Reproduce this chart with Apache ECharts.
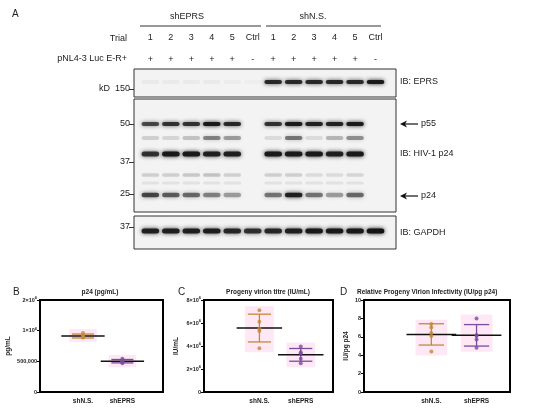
<!DOCTYPE html>
<html>
<head>
<meta charset="utf-8">
<script src="https://cdn.jsdelivr.net/npm/echarts@6/dist/echarts.min.js"></script>
<style>
  html, body { margin: 0; padding: 0; background: #fff; }
  #chart { width: 550px; height: 408px; }
</style>
</head>
<body>
<div id="chart"></div>
<script>
// lanes of the blot
var trials = ['1', '2', '3', '4', '5', 'Ctrl', '1', '2', '3', '4', '5', 'Ctrl'];
var plasmid = ['+', '+', '+', '+', '+', '-', '+', '+', '+', '+', '+', '-'];

// band intensities per lane (0..1)
var eprs   = [0.04, 0.04, 0.04, 0.04, 0.03, 0.02, 0.85, 0.85, 0.85, 0.85, 0.85, 0.95];
var p55    = [0.7, 0.8, 0.8, 0.95, 0.85, 0, 0.8, 0.95, 0.9, 0.9, 0.95, 0];
var band45 = [0.15, 0.12, 0.2, 0.45, 0.35, 0, 0.1, 0.5, 0.1, 0.25, 0.4, 0];
var band40 = [0.8, 0.95, 0.95, 0.9, 0.9, 0, 0.95, 0.95, 0.95, 0.9, 0.95, 0];
var band30 = [0.15, 0.15, 0.18, 0.2, 0.15, 0, 0.15, 0.15, 0.1, 0.1, 0.12, 0];
var band28 = [0.07, 0.07, 0.07, 0.07, 0.07, 0, 0.07, 0.07, 0.07, 0.07, 0.07, 0];
var p24    = [0.7, 0.6, 0.55, 0.45, 0.35, 0, 0.5, 0.9, 0.5, 0.35, 0.55, 0];
var gapdh  = [0.9, 0.9, 0.9, 0.9, 0.85, 0.8, 0.85, 0.9, 0.95, 0.95, 0.95, 1];

// marker ladders (value = row in panel)
var markers1 = [[20, 'kD  150']];
var markers2 = [[25, '50'], [63, '37'], [95, '25']];
var markers3 = [[11, '37']];

// quantification
var groups = ['shN.S.', 'shEPRS'];
var p24NS = [950000, 900000, 870000, 860000, 855000];
var p24EP = [530000, 510000, 500000, 490000, 480000];
var titreNS = [7.1e6, 6.1e6, 5.5e6, 5.3e6, 3.8e6];
var titreEP = [3.95e6, 3.45e6, 3.35e6, 2.9e6, 2.5e6];
var infNS = [7.4, 7.0, 6.4, 6.1, 4.4];
var infEP = [8.0, 6.2, 6.1, 5.7, 4.8];

var colors = ['#c4883a', '#7a4c9e'];
var font = 'Liberation Sans';

function mean(a) { return a.reduce(function (s, v) { return s + v; }, 0) / a.length; }
function sd(a) {
  var m = mean(a);
  return Math.sqrt(a.reduce(function (s, v) { return s + (v - m) * (v - m); }, 0) / (a.length - 1));
}

var chart = echarts.init(document.getElementById('chart'));

//blot bands
function bandData(rows) {
  var out = [];
  rows.forEach(function (r) {
    r.vals.forEach(function (v, i) { if (v > 0) out.push([i, r.y, v, r.h]); });
  });
  return out;
}
function bandItem(params, api) {
  var c = api.coord([api.value(0), api.value(1)]);
  var w = api.size([0.86, 0])[0];
  var h = api.value(3);
  var a = api.value(2);
  return {
    type: 'rect',
    shape: { x: c[0] - w / 2, y: c[1] - h / 2, width: w, height: h, r: h / 2 },
    style: { fill: 'rgba(20,20,20,' + a + ')', shadowBlur: 4, shadowColor: 'rgba(20,20,20,' + a + ')' }
  };
}

function blotY(idx, max, marks) {
  return {
    gridIndex: idx, type: 'value', min: 0, max: max, inverse: true,
    splitLine: { show: false }, axisLine: { show: false, onZero: false },
    axisTick: { show: true, length: 5, customValues: marks.map(function (m) { return m[0]; }), lineStyle: { color: '#333' } },
    axisLabel: {
      customValues: marks.map(function (m) { return m[0]; }),
      formatter: function (v) { var f = marks.filter(function (m) { return m[0] === v; }); return f.length ? f[0][1] : ''; },
      fontFamily: font, fontSize: 9, color: '#222', margin: 4
    }
  };
}

// quant plots
function groupData(arrA, arrB) {
  return [[1, mean(arrA), sd(arrA), Math.min.apply(null, arrA), Math.max.apply(null, arrA), 0],
          [2, mean(arrB), sd(arrB), Math.min.apply(null, arrB), Math.max.apply(null, arrB), 1]];
}
function summaryItem(params, api) {
  var x = api.value(0), m = api.value(1), s = api.value(2), lo = api.value(3), hi = api.value(4);
  var col = colors[api.value(5)];
  var pA = api.coord([x - 0.35, hi]), pB = api.coord([x + 0.35, lo]);
  var pad = 4;
  var top = api.coord([x, m + s]), bot = api.coord([x, m - s]);
  var cw = api.size([0.28, 0])[0];
  var ml = api.coord([x - 0.55, m]), mr = api.coord([x + 0.55, m]);
  return {
    type: 'group',
    children: [
      { type: 'rect', shape: { x: pA[0], y: Math.min(pA[1], top[1]) - pad, width: pB[0] - pA[0], height: Math.max(pB[1], bot[1]) - Math.min(pA[1], top[1]) + 2 * pad },
        style: { fill: 'rgba(255,190,225,0.35)' } },
      { type: 'line', shape: { x1: top[0], y1: top[1], x2: bot[0], y2: bot[1] }, style: { stroke: col, lineWidth: 1.3 } },
      { type: 'line', shape: { x1: top[0] - cw, y1: top[1], x2: top[0] + cw, y2: top[1] }, style: { stroke: col, lineWidth: 1.3 } },
      { type: 'line', shape: { x1: bot[0] - cw, y1: bot[1], x2: bot[0] + cw, y2: bot[1] }, style: { stroke: col, lineWidth: 1.3 } },
      { type: 'line', shape: { x1: ml[0], y1: ml[1], x2: mr[0], y2: mr[1] }, style: { stroke: '#111', lineWidth: 1.5 }, z2: 10 }
    ]
  };
}
function pts(arr, x) { return arr.map(function (v) { return [x, v]; }); }

function quantX(idx, min, max) {
  return {
    gridIndex: idx, type: 'value', min: min, max: max,
    splitLine: { show: false }, axisLine: { show: false, onZero: false }, axisTick: { show: false },
    axisLabel: { customValues: [1, 2], formatter: function (v) { return groups[v - 1]; },
      fontFamily: font, fontSize: 6.5, fontWeight: 'bold', color: '#222', margin: 6 }
  };
}
function quantY(idx, extra) {
  var base = {
    gridIndex: idx, splitLine: { show: false },
    axisLine: { show: false, onZero: false }, axisTick: { show: true, length: 3, lineStyle: { color: '#000' } },
    nameLocation: 'middle', nameRotate: 90,
    nameTextStyle: { fontFamily: font, fontSize: 6.5, fontWeight: 'bold', color: '#222' },
    axisLabel: { fontFamily: font, fontSize: 5.5, fontWeight: 'bold', color: '#222', margin: 3,
      rich: { s: { fontSize: 4, fontWeight: 'bold', verticalAlign: 'top', padding: [0, 0, 4, 0] } } }
  };
  for (var k in extra) {
    if (k === 'axisLabel') { for (var j in extra[k]) base.axisLabel[j] = extra[k][j]; }
    else base[k] = extra[k];
  }
  return base;
}
function sci(v) {
  if (v === 0) return '0';
  var e = Math.floor(Math.log10(v) + 1e-9);
  return (v / Math.pow(10, e)) + '×10{s|' + e + '}';
}

var p24Ticks = [250000, 500000, 1000000, 2000000];
var p24Labels = ['0', '500,000', '1×10{s|6}', '2×10{s|6}'];

function scatterSeries(idx, a, b) {
  return [
    { type: 'custom', xAxisIndex: idx, yAxisIndex: idx, renderItem: summaryItem, data: groupData(a, b), z: 2 },
    { type: 'scatter', xAxisIndex: idx, yAxisIndex: idx, data: pts(a, 1), symbolSize: 4, itemStyle: { color: colors[0] }, z: 5 },
    { type: 'scatter', xAxisIndex: idx, yAxisIndex: idx, data: pts(b, 2), symbolSize: 4, itemStyle: { color: colors[1] }, z: 5 }
  ];
}

var gel = { show: true, backgroundColor: '#f3f3f3', borderColor: '#333', borderWidth: 1 };
var box = { show: true, borderColor: '#000', borderWidth: 2 };

var txt = function (x, y, t, o) {
  var s = { text: t, x: x, y: y, fontFamily: font, fontSize: 9, fill: '#222', textVerticalAlign: 'middle' };
  for (var k in (o || {})) s[k] = o[k];
  return { type: 'text', style: s };
};
var arrow = function (y) {
  return { type: 'group', children: [
    { type: 'line', shape: { x1: 402, y1: y, x2: 418, y2: y }, style: { stroke: '#111', lineWidth: 1.2 } },
    { type: 'polygon', shape: { points: [[400, y], [407, y - 3.5], [405, y], [407, y + 3.5]] }, style: { fill: '#111' } }
  ] };
};

chart.setOption({
  animation: false,
  grid: [
    Object.assign({ left: 134, top: 69, width: 262, height: 28 }, gel),
    Object.assign({ left: 134, top: 99, width: 262, height: 113 }, gel),
    Object.assign({ left: 134, top: 216, width: 262, height: 33 }, gel),
    Object.assign({ left: 40, top: 300, width: 123, height: 92 }, box),
    Object.assign({ left: 204, top: 300, width: 129, height: 92 }, box),
    Object.assign({ left: 364, top: 300, width: 146, height: 92 }, box)
  ],
  xAxis: [
    { gridIndex: 0, type: 'value', min: -0.8, max: 12, position: 'top', splitLine: { show: false }, axisLine: { show: false, onZero: false }, axisTick: { show: false },
      axisLabel: { customValues: [0, 1, 2, 3, 4, 5, 6, 7, 8, 9, 10, 11], formatter: function (v) { return plasmid[v]; }, fontFamily: font, fontSize: 9, color: '#222', margin: 5 } },
    { gridIndex: 1, type: 'value', min: -0.8, max: 12, show: false },
    { gridIndex: 2, type: 'value', min: -0.8, max: 12, show: false },
    quantX(3, -0.09, 3.03),
    quantX(4, -0.34, 2.78),
    quantX(5, -0.49, 2.74),
    { gridIndex: 0, type: 'value', min: -0.8, max: 12, position: 'top', offset: 22, splitLine: { show: false }, axisLine: { show: false, onZero: false }, axisTick: { show: false },
      axisLabel: { customValues: [0, 1, 2, 3, 4, 5, 6, 7, 8, 9, 10, 11], formatter: function (v) { return trials[v]; }, fontFamily: font, fontSize: 9, color: '#222', margin: 5 } }
  ],
  yAxis: [
    blotY(0, 28, markers1),
    blotY(1, 113, markers2),
    blotY(2, 33, markers3),
    quantY(3, { type: 'log', logBase: 10, min: 250000, max: 2000000, name: 'pg/mL', nameGap: 28,
      axisTick: { show: true, length: 3, customValues: p24Ticks, lineStyle: { color: '#000' } },
      axisLabel: { customValues: p24Ticks, formatter: function (v) { return p24Labels[p24Ticks.indexOf(v)] || ''; } } }),
    quantY(4, { type: 'value', min: 0, max: 8e6, interval: 2e6, name: 'IU/mL', nameGap: 24,
      axisLabel: { formatter: sci } }),
    quantY(5, { type: 'value', min: 0, max: 10, interval: 2, name: 'IU/pg p24', nameGap: 14 })
  ],
  series: [
    { type: 'custom', xAxisIndex: 0, yAxisIndex: 0, renderItem: bandItem, data: bandData([{ vals: eprs, y: 13, h: 4 }]) },
    { type: 'custom', xAxisIndex: 1, yAxisIndex: 1, renderItem: bandItem,
      data: bandData([
        { vals: p55, y: 25, h: 4 }, { vals: band45, y: 39, h: 4 }, { vals: band40, y: 55, h: 5 },
        { vals: band30, y: 76, h: 3.5 }, { vals: band28, y: 84, h: 3 }, { vals: p24, y: 96, h: 4.5 }
      ]) },
    { type: 'custom', xAxisIndex: 2, yAxisIndex: 2, renderItem: bandItem, data: bandData([{ vals: gapdh, y: 15, h: 5 }]) }
  ].concat(scatterSeries(3, p24NS, p24EP), scatterSeries(4, titreNS, titreEP), scatterSeries(5, infNS, infEP)),
  graphic: [
    txt(12, 14, 'A', { fontSize: 10 }),
    txt(187, 17, 'shEPRS', { textAlign: 'center' }),
    txt(313, 17, 'shN.S.', { textAlign: 'center' }),
    { type: 'line', shape: { x1: 140, y1: 26, x2: 261, y2: 26 }, style: { stroke: '#333', lineWidth: 1 } },
    { type: 'line', shape: { x1: 266, y1: 26, x2: 381, y2: 26 }, style: { stroke: '#333', lineWidth: 1 } },
    txt(127, 39, 'Trial', { textAlign: 'right' }),
    txt(127, 59, 'pNL4-3 Luc E-R+', { textAlign: 'right' }),
    txt(400, 82, 'IB: EPRS'),
    arrow(124), txt(421, 124, 'p55'),
    txt(400, 154, 'IB: HIV-1 p24'),
    arrow(196), txt(421, 196, 'p24'),
    txt(400, 233, 'IB: GAPDH'),
    txt(13, 292, 'B', { fontSize: 10 }),
    txt(100, 292, 'p24 (pg/mL)', { textAlign: 'center', fontSize: 6.5, fontWeight: 'bold' }),
    txt(178, 292, 'C', { fontSize: 10 }),
    txt(268, 292, 'Progeny virion titre (IU/mL)', { textAlign: 'center', fontSize: 6.5, fontWeight: 'bold' }),
    txt(340, 292, 'D', { fontSize: 10 }),
    txt(357, 292, 'Relative Progeny Virion Infectivity (IU/pg p24)', { fontSize: 6.5, fontWeight: 'bold' })
  ]
});
</script>
</body>
</html>
